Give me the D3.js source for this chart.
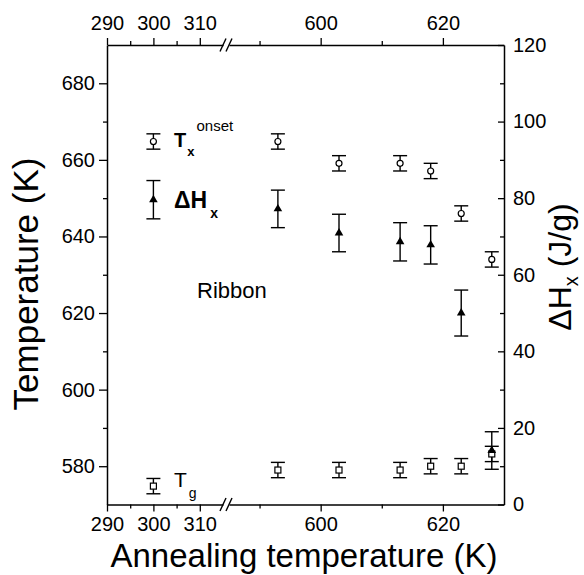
<!DOCTYPE html>
<html>
<head>
<meta charset="utf-8">
<script src="https://cdn.jsdelivr.net/npm/d3@7"></script>
<style>
  body { margin: 0; background: #fff; }
  text { font-family: "Liberation Sans", Arial, Helvetica, sans-serif; fill: #000; }
</style>
</head>
<body>
<div id="chart"></div>
<script>
// annealing temperatures (K) of the samples
const annealTemps = [300, 593, 603, 613, 618, 623, 628];
// onset crystallisation temperature Tx (K)
const txOnset = [664.8, 664.8, 659.1, 659.1, 657.1, 646.0, 634.0];
const txErr = [2, 2, 2, 2, 2, 2, 2];
// crystallisation enthalpy dHx (J/g)
const dHx = [79.6, 77.2, 70.9, 68.6, 67.8, 50.0, 14.1];
const dHxErr = [5, 4.9, 4.9, 5, 5, 6, 4.9];
// glass transition Tg (K)
const tg = [574.8, 579.0, 579.0, 579.0, 580.0, 580.0, 583.2];
const tgErr = [2, 2, 2, 2, 2, 2, 2];

// tick labels
const xTicksLeft = [290, 300, 310];
const xMinorLeft = [295, 305];
const xTicksRight = [600, 620];
const xMinorRight = [590, 610];
const tempTicks = [580, 600, 620, 640, 660, 680];
const tempMinor = [590, 610, 630, 650, 670];
const dhTicks = [0, 20, 40, 60, 80, 100, 120];
const dhMinor = [10, 30, 50, 70, 90, 110];

const width = 584;
const height = 575;
const plotLeft = 107, plotRight = 504, plotTop = 45, plotBottom = 504.5;
const breakL = 223, breakR = 229;

const xLeft = d3.scaleLinear().domain([290, 315]).range([plotLeft, breakL]);
const xRight = d3.scaleLinear().domain([585, 630]).range([breakR, plotRight]);
const x = v => v < 450 ? xLeft(v) : xRight(v);
const yT = d3.scaleLinear().domain([570, 690]).range([plotBottom, plotTop]);
const yH = d3.scaleLinear().domain([0, 120]).range([plotBottom, plotTop]);

const svg = d3.select("#chart").append("svg")
    .attr("width", width)
    .attr("height", height);

function styleAxis(g) {
    g.selectAll(".domain").attr("stroke", "#000").attr("stroke-width", 1.5);
    g.selectAll(".tick line").attr("stroke", "#000").attr("stroke-width", 1.3);
    g.selectAll(".tick text").attr("font-size", 20).attr("font-family", "Liberation Sans, Arial, sans-serif");
}

// bottom & top axes, two segments each
[[xLeft, xTicksLeft, xMinorLeft], [xRight, xTicksRight, xMinorRight]].forEach(([sc, maj, min]) => {
    svg.append("g")
        .attr("transform", `translate(0,${plotBottom})`)
        .call(d3.axisBottom(sc).tickValues(maj).tickSize(7).tickPadding(5).tickSizeOuter(0))
        .call(styleAxis);
    svg.append("g")
        .attr("transform", `translate(0,${plotBottom})`)
        .call(d3.axisBottom(sc).tickValues(min).tickSize(4).tickFormat(""))
        .call(g => g.select(".domain").remove())
        .call(styleAxis);
    svg.append("g")
        .attr("transform", `translate(0,${plotTop})`)
        .call(d3.axisTop(sc).tickValues(maj).tickSize(7).tickPadding(8).tickSizeOuter(0))
        .call(styleAxis);
    svg.append("g")
        .attr("transform", `translate(0,${plotTop})`)
        .call(d3.axisTop(sc).tickValues(min).tickSize(4).tickFormat(""))
        .call(g => g.select(".domain").remove())
        .call(styleAxis);
});

// axis break marks
[plotTop, plotBottom].forEach(yy => {
    [breakL, breakR].forEach(cx => {
        svg.append("line")
            .attr("x1", cx - 3).attr("y1", yy + 6.5)
            .attr("x2", cx + 3).attr("y2", yy - 6.5)
            .attr("stroke", "#000").attr("stroke-width", 1.4);
    });
});

// left axis (temperature)
svg.append("g")
    .attr("transform", `translate(${plotLeft},0)`)
    .call(d3.axisLeft(yT).tickValues(tempTicks).tickSize(8).tickPadding(4).tickSizeOuter(0))
    .call(styleAxis);
svg.append("g")
    .attr("transform", `translate(${plotLeft},0)`)
    .call(d3.axisLeft(yT).tickValues(tempMinor).tickSize(4).tickFormat(""))
    .call(g => g.select(".domain").remove())
    .call(styleAxis);

// right axis (enthalpy), ticks inward
svg.append("g")
    .attr("transform", `translate(${plotRight},0)`)
    .call(d3.axisRight(yH).tickValues(dhTicks).tickSize(-6).tickPadding(9).tickSizeOuter(0))
    .call(styleAxis);
svg.append("g")
    .attr("transform", `translate(${plotRight},0)`)
    .call(d3.axisRight(yH).tickValues(dhMinor).tickSize(-4).tickFormat(""))
    .call(g => g.select(".domain").remove())
    .call(styleAxis);

// error bars
function errorBars(vals, errs, sc) {
    const g = svg.append("g").attr("stroke", "#000").attr("stroke-width", 1.4);
    annealTemps.forEach((t, i) => {
        const cx = x(t);
        const y1 = sc(vals[i] + errs[i]);
        const y2 = sc(vals[i] - errs[i]);
        g.append("line").attr("x1", cx).attr("x2", cx).attr("y1", y1).attr("y2", y2);
        g.append("line").attr("x1", cx - 7).attr("x2", cx + 7).attr("y1", y1).attr("y2", y1);
        g.append("line").attr("x1", cx - 7).attr("x2", cx + 7).attr("y1", y2).attr("y2", y2);
    });
}
errorBars(txOnset, txErr, yT);
errorBars(dHx, dHxErr, yH);
errorBars(tg, tgErr, yT);

// Tx onset: open circles
svg.append("g").selectAll("circle")
    .data(annealTemps)
    .join("circle")
    .attr("cx", d => x(d))
    .attr("cy", (d, i) => yT(txOnset[i]))
    .attr("r", 3)
    .attr("fill", "#fff")
    .attr("stroke", "#000")
    .attr("stroke-width", 1.2);

// Tg: open squares
svg.append("g").selectAll("rect")
    .data(annealTemps)
    .join("rect")
    .attr("x", d => x(d) - 3)
    .attr("y", (d, i) => yT(tg[i]) - 3)
    .attr("width", 6)
    .attr("height", 6)
    .attr("fill", "#fff")
    .attr("stroke", "#000")
    .attr("stroke-width", 1.2);

// dHx: filled triangles
svg.append("g").selectAll("path")
    .data(annealTemps)
    .join("path")
    .attr("transform", (d, i) => `translate(${x(d)},${yH(dHx[i])})`)
    .attr("d", d3.symbol(d3.symbolTriangle, 32))
    .attr("fill", "#000");

// labels inside plot
const tx = svg.append("text").attr("x", 174).attr("y", 147).attr("font-size", 20).attr("font-weight", "bold");
tx.append("tspan").text("T");
tx.append("tspan").attr("dy", 9).attr("dx", 1).attr("font-size", 13).text("x");
tx.append("tspan").attr("dy", -25).attr("dx", 2).attr("font-size", 15).attr("font-weight", "normal").text("onset");

const dh = svg.append("text").attr("x", 174).attr("y", 208).attr("font-size", 23).attr("font-weight", "bold");
dh.append("tspan").text("ΔH");
dh.append("tspan").attr("dy", 10).attr("dx", 3).attr("font-size", 14).text("x");

svg.append("text").attr("x", 197).attr("y", 298).attr("font-size", 22).text("Ribbon");

const tgl = svg.append("text").attr("x", 174).attr("y", 487).attr("font-size", 21);
tgl.append("tspan").text("T");
tgl.append("tspan").attr("dy", 11).attr("dx", 2).attr("font-size", 14).text("g");

// axis titles
svg.append("text")
    .attr("x", 304).attr("y", 567)
    .attr("text-anchor", "middle")
    .attr("font-size", 33)
    .text("Annealing temperature (K)");

svg.append("text")
    .attr("transform", "translate(38,284) rotate(-90)")
    .attr("text-anchor", "middle")
    .attr("font-size", 35)
    .text("Temperature (K)");

const rt = svg.append("text")
    .attr("transform", "translate(571,267) rotate(-90)")
    .attr("text-anchor", "middle")
    .attr("font-size", 32);
rt.append("tspan").text("ΔH");
rt.append("tspan").attr("dy", 7).attr("font-size", 20).text("x");
rt.append("tspan").attr("dy", -7).text(" (J/g)");
</script>
</body>
</html>
